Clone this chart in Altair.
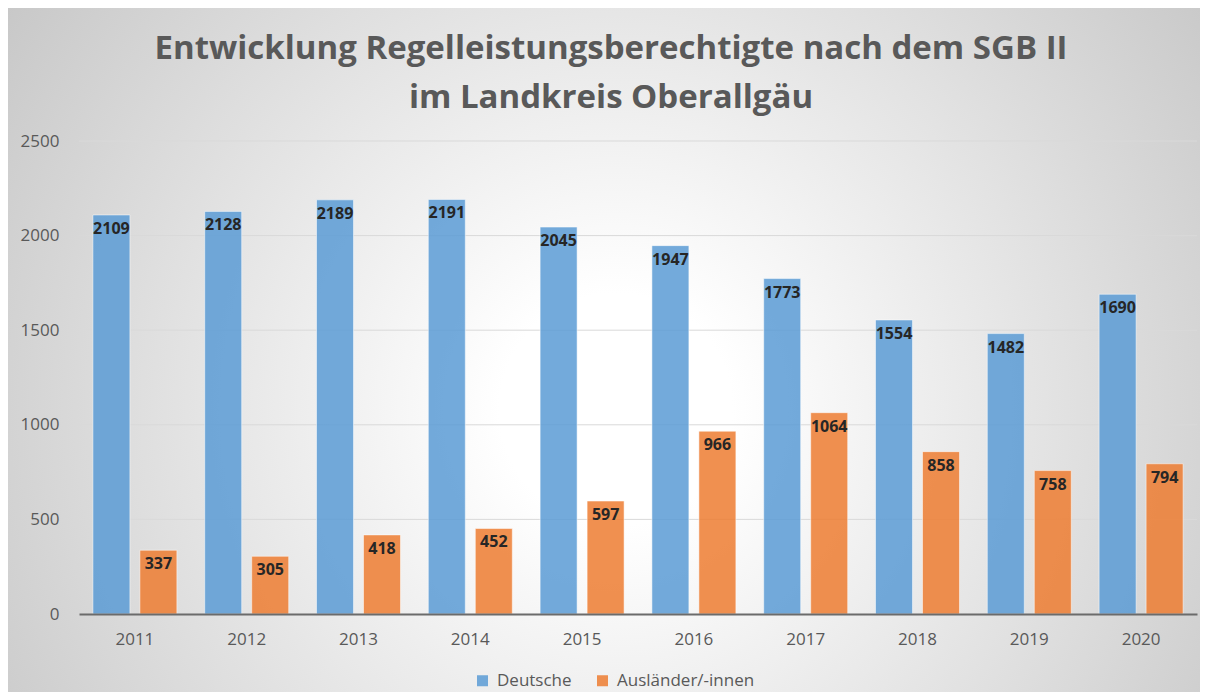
import altair as alt
import pandas as pd

years = ["2011", "2012", "2013", "2014", "2015", "2016", "2017", "2018", "2019", "2020"]
deutsche = [2109, 2128, 2189, 2191, 2045, 1947, 1773, 1554, 1482, 1690]
auslaender = [337, 305, 418, 452, 597, 966, 1064, 858, 758, 794]
series = ["Deutsche", "Ausländer/-innen"]
colors = ["#5B9BD5", "#ED7D31"]
y_ticks = [0, 500, 1000, 1500, 2000, 2500]
title_lines = ["Entwicklung Regelleistungsberechtigte nach dem SGB II",
               "im Landkreis Oberallgäu"]

rows = []
for i, yr in enumerate(years):
    rows.append({"Jahr": yr, "Gruppe": series[0], "Wert": deutsche[i]})
    rows.append({"Jahr": yr, "Gruppe": series[1], "Wert": auslaender[i]})
df = pd.DataFrame(rows)
grid_df = pd.DataFrame({"v": y_ticks[1:]})

W, H = 1118, 473
PL, PT, PR, PB = 71, 133, 3, 78
FONT = "Open Sans"
GRAY = "#595959"

bg_fill = {
    "gradient": "radial",
    "x1": 0.51, "y1": 0.55, "r1": 0,
    "x2": 0.51, "y2": 0.55, "r2": 0.65,
    "stops": [
        {"offset": 0, "color": "#ffffff"},
        {"offset": 0.15, "color": "#ffffff"},
        {"offset": 1, "color": "#c4c4c4"},
    ],
}

yscale = alt.Scale(domain=[0, 2500], nice=False)
yaxis = alt.Axis(title=None, values=y_ticks, format="d", labelFont=FONT, labelFontSize=17,
                 labelColor=GRAY, ticks=False, tickSize=0, domain=False, grid=False,
                 labelPadding=20, zindex=1)
xaxis = alt.Axis(title=None, labelAngle=0, labelFont=FONT, labelFontSize=17,
                 labelColor=GRAY, ticks=False, tickSize=0, domainColor="#6b6b6b",
                 domainWidth=2, labelPadding=17, zindex=1, grid=False)
xenc = alt.X("Jahr:N", sort=years, scale=alt.Scale(paddingInner=0, paddingOuter=0), axis=xaxis)
xoff = alt.XOffset("Gruppe:N", sort=series,
                   scale=alt.Scale(paddingInner=0.213, paddingOuter=0.296))

bg = alt.Chart(alt.Data(values=[{"a": 1}])).mark_rect(fill=bg_fill).encode(
    x=alt.value(-PL), x2=alt.value(W + PR), y=alt.value(-PT), y2=alt.value(H + PB)
)

grid = alt.Chart(grid_df).mark_rule(color="#d9d9d9", strokeWidth=1).encode(
    y=alt.Y("v:Q", scale=yscale, axis=yaxis)
)

bars = alt.Chart(df).mark_bar(fillOpacity=0.85, stroke="white", strokeOpacity=0.5,
                              strokeWidth=1).encode(
    x=xenc,
    xOffset=xoff,
    y=alt.Y("Wert:Q", scale=yscale, axis=yaxis),
    color=alt.Color("Gruppe:N", sort=series,
                    scale=alt.Scale(domain=series, range=colors),
                    legend=alt.Legend(title=None, orient="none", legendX=395, legendY=531,
                                      direction="horizontal", symbolType="square",
                                      symbolSize=121, symbolStrokeWidth=0,
                                      symbolOpacity=0.85,
                                      labelFont=FONT, labelFontSize=17, labelColor=GRAY,
                                      columnPadding=22, labelOffset=6, padding=0)),
)

labels = alt.Chart(df).mark_text(font=FONT, fontWeight="bold", fontSize=16,
                                 color="#262626", baseline="alphabetic", dy=19).encode(
    x=xenc,
    xOffset=xoff,
    y=alt.Y("Wert:Q", scale=yscale, axis=yaxis),
    text="Wert:Q",
)

chart = alt.layer(bg, grid, bars, labels).properties(
    width=W, height=H,
    padding={"left": PL, "top": PT, "right": PR, "bottom": PB},
    autosize=alt.AutoSizeParams(type="none"),
    title=alt.TitleParams(text=title_lines, font=FONT, fontSize=33, fontWeight="bold",
                          color=GRAY, anchor="middle", dx=-27, offset=-107, lineHeight=49),
).configure_view(stroke=None).configure(background="#ffffff")

chart.save("out.html", embed_options={"renderer": "svg", "actions": False})
